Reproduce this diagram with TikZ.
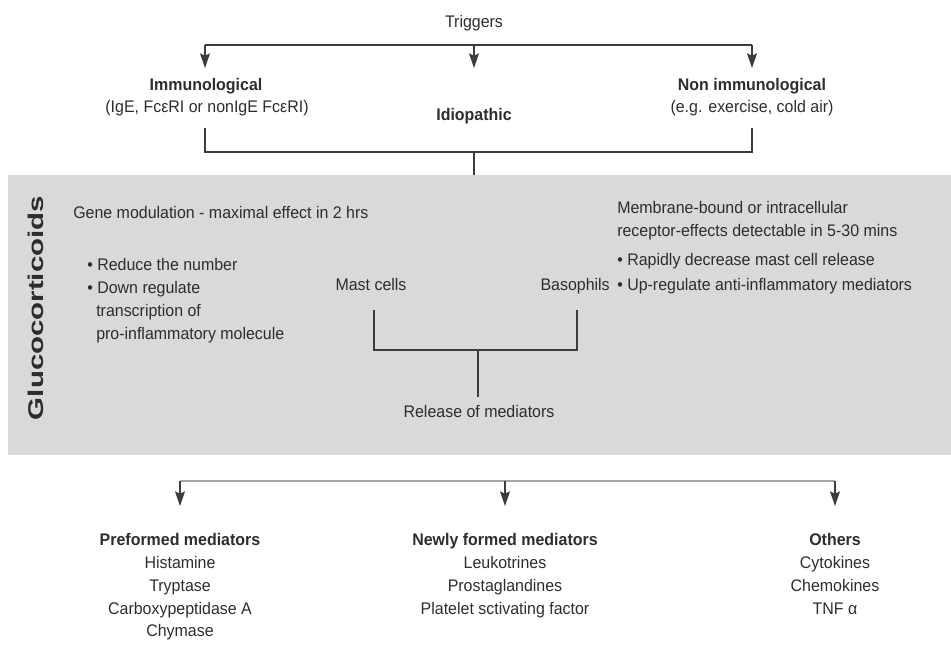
\documentclass[tikz,border=0pt]{standalone}
\usepackage{fontspec}
\setmainfont{Liberation Sans}[FakeStretch=0.95]
\usetikzlibrary{arrows.meta}
\definecolor{boxgray}{RGB}{216,217,219}
\definecolor{ink}{RGB}{45,45,45}
\definecolor{lineink}{RGB}{60,60,60}
\begin{document}
\begin{tikzpicture}[x=0.75pt,y=-0.75pt,
  every node/.style={inner sep=0pt, text=ink, text height=10pt, text depth=2pt, font=\fontsize{12.6}{14}\selectfont},
  hd/.style={font=\fontsize{12.6}{14}\selectfont\bfseries},
  conn/.style={draw=lineink, line width=0.8pt},
  arr/.style={conn, -{Stealth[length=11pt,width=7.5pt,inset=1.8pt]}},
  dbl/.style={draw=lineink, line width=0.6pt, double=gray!70, double distance=0.9pt}]
\useasboundingbox (0,0) rectangle (951,648);
% grey panel
\fill[boxgray] (8,175) rectangle (951,455);

% Triggers
\node (trig) at (474,22) {Triggers};
\coordinate (tl) at (205,45);
\coordinate (tm) at (474,45);
\coordinate (tr) at (752,45);
\node[hd] (imm) at (206,85) {Immunological};
\node (imm2) at (207,107) {(IgE, FcεRI or nonIgE FcεRI)};
\node[hd] (idio) at (474,115) {Idiopathic};
\node[hd] (non) at (752,85) {Non immunological};
\node (non2) at (752,107) {(e.g. exercise, cold air)};
\coordinate (al) at (205,68);
\coordinate (am) at (474,68);
\coordinate (ar) at (752,68);
\draw[conn] (tl) -- (tr);
\draw[arr] (tl) -- (al);
\draw[arr] (tm) -- (am);
\draw[arr] (tr) -- (ar);

\coordinate (bl) at (205,128);
\coordinate (br) at (752,128);
\coordinate (bm) at (474,152);
\coordinate (bin) at (474,175);
\draw[conn] (bl) |- (bm) -| (br);
\draw[conn] (bm) -- (bin);

% Glucocorticoids panel
\node[rotate=90, text height=, text depth=, font=\fontsize{16}{18}\selectfont\bfseries\addfontfeature{FakeStretch=1.38}] (gluc) at (36,308) {Glucocorticoids};

\node[anchor=west] (gene) at (73,213) {Gene modulation - maximal effect in 2 hrs};
\node[anchor=west] (g1) at (87,265) {• Reduce the number};
\node[anchor=west] (g2) at (87,288) {• Down regulate};
\node[anchor=west] (g3) at (96,311) {transcription of};
\node[anchor=west] (g4) at (96,334) {pro-inflammatory molecule};

\node[anchor=west] (m1) at (617,208) {Membrane-bound or intracellular};
\node[anchor=west] (m2) at (617,231) {receptor-effects detectable in 5-30 mins};
\node[anchor=west] (m3) at (617,260) {• Rapidly decrease mast cell release};
\node[anchor=west] (m4) at (617,285) {• Up-regulate anti-inflammatory mediators};

\node (mast) at (371,285) {Mast cells};
\node[anchor=east] (baso) at (610,285) {Basophils};
\node (rel) at (479,412) {Release of mediators};

\coordinate (ml) at (374,310);
\coordinate (mr) at (577,310);
\coordinate (mm) at (478,350);
\coordinate (mb) at (478,397);
\draw[conn] (ml) |- (mm) -| (mr);
\draw[conn] (mm) -- (mb);

% bottom
\coordinate (dl) at (180,481);
\coordinate (dm) at (505,481);
\coordinate (dr) at (835,481);
\draw[dbl] (dl) -- (dr);
\coordinate (el) at (180,506);
\coordinate (em) at (505,506);
\coordinate (er) at (835,506);
\draw[arr] (dl) -- (el);
\draw[arr] (dm) -- (em);
\draw[arr] (dr) -- (er);

\node[hd] (pre) at (180,540) {Preformed mediators};
\node (p1) at (180,563) {Histamine};
\node (p2) at (180,586) {Tryptase};
\node (p3) at (180,609) {Carboxypeptidase A};
\node (p4) at (180,631) {Chymase};

\node[hd] (new) at (505,540) {Newly formed mediators};
\node (n1) at (505,563) {Leukotrines};
\node (n2) at (505,586) {Prostaglandines};
\node (n3) at (505,609) {Platelet sctivating factor};

\node[hd] (oth) at (835,540) {Others};
\node (o1) at (835,563) {Cytokines};
\node (o2) at (835,586) {Chemokines};
\node (o3) at (835,609) {TNF α};
\end{tikzpicture}
\end{document}
